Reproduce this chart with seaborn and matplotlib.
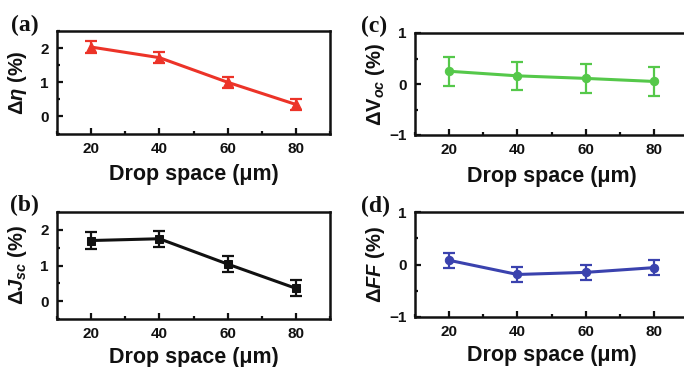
import matplotlib
matplotlib.use("Agg")
import matplotlib.pyplot as plt
import seaborn as sns
import pandas as pd
from matplotlib.ticker import MultipleLocator

# ---- data ----
drop_space = [20, 40, 60, 80]
d_eta = [2.03, 1.72, 1.00, 0.35]
d_eta_err = [0.17, 0.17, 0.16, 0.15]
d_jsc = [1.70, 1.75, 1.04, 0.36]
d_jsc_err = [0.23, 0.22, 0.22, 0.22]
d_voc = [0.25, 0.16, 0.11, 0.05]
d_voc_err = [0.28, 0.28, 0.28, 0.28]
d_ff = [0.08, -0.19, -0.15, -0.06]
d_ff_err = [0.14, 0.14, 0.14, 0.14]

sns.set_theme(style="ticks")
plt.rcParams["font.family"] = ["Liberation Sans", "DejaVu Sans"]
plt.rcParams["font.weight"] = "bold"
plt.rcParams["axes.labelweight"] = "bold"
plt.rcParams["mathtext.fontset"] = "custom"
plt.rcParams["mathtext.rm"] = "Liberation Sans:bold"
plt.rcParams["mathtext.bf"] = "Liberation Sans:bold"
plt.rcParams["mathtext.it"] = "Liberation Sans:italic:bold"
plt.rcParams["mathtext.sf"] = "Liberation Sans:bold"

fig = plt.figure(figsize=(6.84, 3.67), dpi=100)
W, H = 684, 367

def axes_px(left, top, right, bottom):
    return fig.add_axes([left / W, 1 - bottom / H, (right - left) / W, (bottom - top) / H])

panels = [
    dict(pos=(57, 31, 330, 133.5), y=d_eta, e=d_eta_err, c="#ec3328", m="^", ms=7.5,
         ylim=(-0.5, 2.5), lab=r"$\mathit{\Delta\eta}$ (%)", labx=29, pad=6,
         letter="(a)", lpos=(25, 25)),
    dict(pos=(57, 212, 330, 319), y=d_jsc, e=d_jsc_err, c="#111111", m="s", ms=6,
         ylim=(-0.5, 2.5), lab=r"$\mathit{\Delta J_{sc}}$ (%)", labx=29, pad=4,
         letter="(b)", lpos=(24, 205)),
    dict(pos=(415, 33, 688, 135), y=d_voc, e=d_voc_err, c="#55c84a", m="o", ms=6,
         ylim=(-1, 1), lab=r"$\Delta\mathbf{V}_{\mathit{oc}}$ (%)", labx=387, pad=6,
         letter="(c)", lpos=(374, 26)),
    dict(pos=(415, 212, 688, 317), y=d_ff, e=d_ff_err, c="#3a42ae", m="o", ms=6,
         ylim=(-1, 1), lab=r"$\Delta\mathit{FF}$ (%)", labx=387, pad=4,
         letter="(d)", lpos=(375, 206)),
]

for p in panels:
    ax = axes_px(*p["pos"])
    df = pd.DataFrame({"x": drop_space, "y": p["y"]})
    sns.lineplot(data=df, x="x", y="y", ax=ax, color=p["c"], marker=p["m"],
                 markersize=p["ms"], markeredgecolor=p["c"], linewidth=2.2)
    ax.errorbar(drop_space, p["y"], yerr=p["e"], fmt="none", ecolor=p["c"],
                elinewidth=1.6, capsize=4.5, capthick=1.6)
    ax.set_xlim(10, 90)
    ax.set_ylim(*p["ylim"])
    ax.xaxis.set_major_locator(MultipleLocator(20))
    ax.xaxis.set_minor_locator(MultipleLocator(10))
    ax.yaxis.set_major_locator(MultipleLocator(1))
    ax.yaxis.set_minor_locator(MultipleLocator(0.5))
    ax.tick_params(which="both", direction="in", top=False, right=False,
                   width=1.6, labelsize=11, pad=6, colors="#111111")
    ax.tick_params(which="major", length=4.5)
    ax.tick_params(which="minor", length=2.5)
    for lbl in ax.get_xticklabels() + ax.get_yticklabels():
        lbl.set_fontweight("bold")
    for s in ax.spines.values():
        s.set_linewidth(1.8)
        s.set_color("#111111")
    ax.set_xlabel("Drop space (\u03bcm)", fontsize=15.5, fontweight="bold",
                  labelpad=p["pad"], color="#111111")
    ax.set_ylabel(p["lab"], fontsize=14.5, fontweight="bold", color="#111111")
    axw = p["pos"][2] - p["pos"][0]
    ax.yaxis.set_label_coords((p["labx"] - p["pos"][0]) / axw, 0.5)
    fig.text(p["lpos"][0] / W, 1 - p["lpos"][1] / H, p["letter"], ha="center", va="center",
             fontsize=17, fontweight="bold", family=["Liberation Serif", "DejaVu Serif"],
             color="#111111")

fig.savefig("out.png", dpi=100)
